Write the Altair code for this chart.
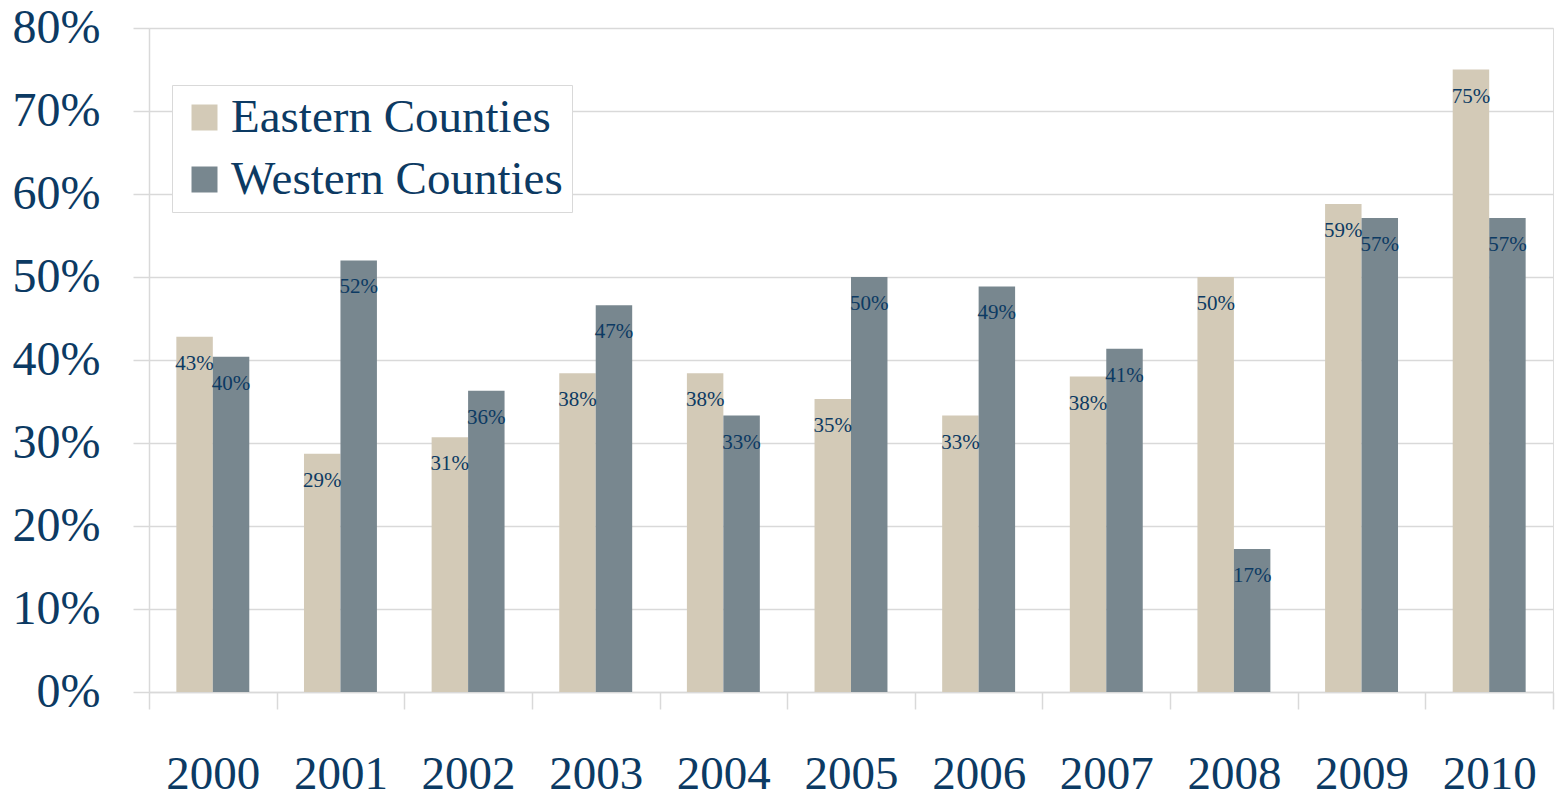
import altair as alt
import pandas as pd

years = ["2000", "2001", "2002", "2003", "2004", "2005", "2006", "2007", "2008", "2009", "2010"]
series = ["Eastern Counties", "Western Counties"]
eastern = [0.428, 0.287, 0.307, 0.384, 0.384, 0.353, 0.333, 0.380, 0.500, 0.588, 0.750]
western = [0.404, 0.520, 0.363, 0.466, 0.333, 0.500, 0.4886, 0.4136, 0.1724, 0.571, 0.571]
y_ticks = [0, 0.1, 0.2, 0.3, 0.4, 0.5, 0.6, 0.7, 0.8]

rows = []
for i, y in enumerate(years):
    rows.append({"year": y, "series": series[0], "value": eastern[i]})
    rows.append({"year": y, "series": series[1], "value": western[i]})
df = pd.DataFrame(rows)

FONT = "Liberation Serif"
NAVY = "#0C3A63"
GRID = "#D9D9D9"
colors = ["#D3CAB7", "#78878F"]

x = alt.X("year:N", sort=years, title=None,
          scale=alt.Scale(paddingInner=0, paddingOuter=0),
          axis=alt.Axis(labelAngle=0, labelFont=FONT, labelFontSize=47, labelColor=NAVY,
                        tickBand="extent", tickSize=17, tickColor=GRID, tickWidth=1.5,
                        domainColor=GRID, domainWidth=1.5, labelPadding=42, grid=False))
xo = alt.XOffset("series:N", sort=series,
                 scale=alt.Scale(paddingInner=0, paddingOuter=0.75))
y = alt.Y("value:Q", title=None,
          scale=alt.Scale(domain=[0, 0.8], nice=False),
          axis=alt.Axis(values=y_ticks, format=".0%", labelFont=FONT, labelFontSize=48,
                        labelColor=NAVY, tickSize=16, tickColor=GRID, tickWidth=1.5,
                        gridColor=GRID, gridWidth=1.5, domainColor=GRID, domainWidth=1.5,
                        labelPadding=33))

bars = alt.Chart(df).mark_bar(stroke=None).encode(
    x=x, xOffset=xo, y=y,
    color=alt.Color("series:N", sort=series,
                    scale=alt.Scale(domain=series, range=colors),
                    legend=alt.Legend(title=None, orient="none", legendX=23, legendY=57,
                                      fillColor="white", strokeColor=GRID, padding=9,
                                      symbolType="square", symbolSize=676, symbolStrokeWidth=0,
                                      labelFont=FONT, labelFontSize=47, labelColor=NAVY,
                                      labelOffset=3, rowPadding=14, labelLimit=600)),
)

labels = alt.Chart(df).mark_text(font=FONT, fontSize=21, color=NAVY, baseline="middle",
                                 align="center", dy=27).encode(
    x=x, xOffset=xo, y=y,
    text=alt.Text("value:Q", format=".0%"),
)

chart = alt.layer(bars, labels).properties(
    width=1404, height=664,
    padding={"left": 149, "top": 28, "right": 3, "bottom": 106},
    autosize=alt.AutoSizeParams(type="none"),
).configure_view(stroke=None).configure(background="white")

chart.save("out.html", embed_options={"renderer": "svg", "actions": False})
